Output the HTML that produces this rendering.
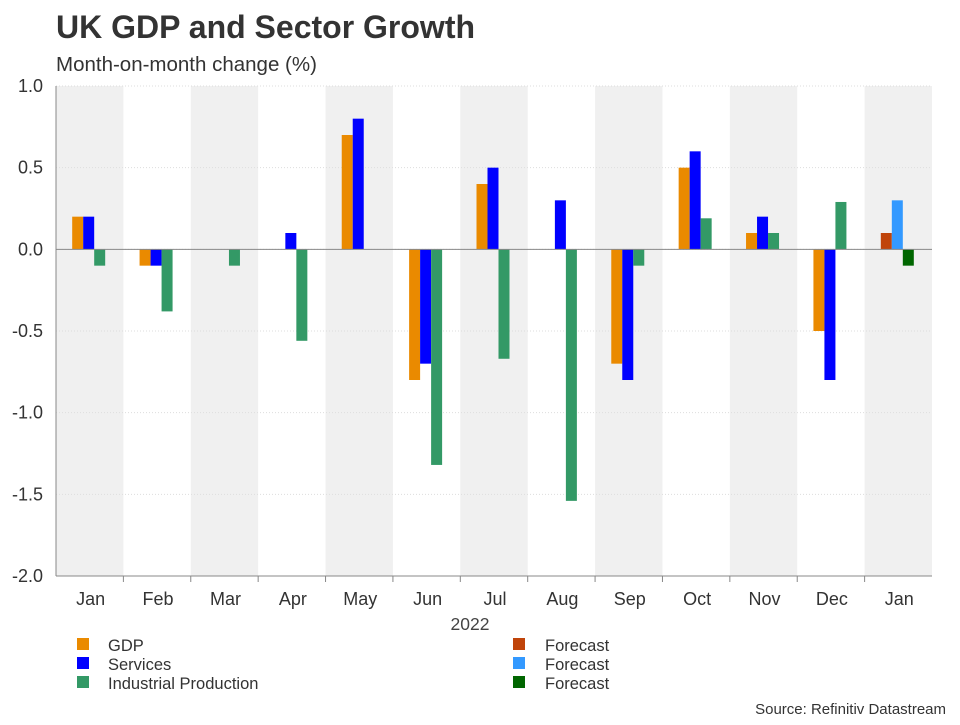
<!DOCTYPE html>
<html><head><meta charset="utf-8"><style>
body{margin:0;background:#fff;font-family:"Liberation Sans",Arial,sans-serif;}
svg text{font-family:"Liberation Sans",Arial,sans-serif;}
</style></head><body>
<svg width="960" height="720" xmlns="http://www.w3.org/2000/svg">
<text x="56" y="38" font-size="32" font-weight="bold" fill="#333">UK GDP and Sector Growth</text>
<text x="56" y="71" font-size="20.5" fill="#333">Month-on-month change (%)</text>
<g id="plot"></g>
<text x="470" y="630" font-size="17.5" fill="#444" text-anchor="middle">2022</text>
<g>
<rect x="77" y="638" width="12" height="12" fill="#ea8a00"/>
<text x="108" y="651" font-size="16.5" fill="#333">GDP</text>
<rect x="77" y="657" width="12" height="12" fill="#0000ff"/>
<text x="108" y="670" font-size="16.5" fill="#333">Services</text>
<rect x="77" y="676" width="12" height="12" fill="#339966"/>
<text x="108" y="689" font-size="16.5" fill="#333">Industrial Production</text>
<rect x="513" y="638" width="12" height="12" fill="#c0440a"/>
<text x="545" y="651" font-size="16.5" fill="#333">Forecast</text>
<rect x="513" y="657" width="12" height="12" fill="#3399ff"/>
<text x="545" y="670" font-size="16.5" fill="#333">Forecast</text>
<rect x="513" y="676" width="12" height="12" fill="#006600"/>
<text x="545" y="689" font-size="16.5" fill="#333">Forecast</text>
</g>
<text x="946" y="714" font-size="15" fill="#333" text-anchor="end">Source: Refinitiv Datastream</text>
</svg>
<script>
const categories=["Jan","Feb","Mar","Apr","May","Jun","Jul","Aug","Sep","Oct","Nov","Dec","Jan"];
const gdp=[0.2,-0.1,0,0,0.7,-0.8,0.4,0,-0.7,0.5,0.1,-0.5,0.1];
const services=[0.2,-0.1,0,0.1,0.8,-0.7,0.5,0.3,-0.8,0.6,0.2,-0.8,0.3];
const industrial=[-0.1,-0.38,-0.1,-0.56,0,-1.32,-0.67,-1.54,-0.1,0.19,0.1,0.29,-0.1];
const yTicks=[1.0,0.5,0.0,-0.5,-1.0,-1.5,-2.0];
const forecastIndex=12;
const NS="http://www.w3.org/2000/svg";
const g=document.getElementById('plot');
const L=56,R=932,T=86,B=576,yMax=1,yMin=-2;
const bw=(R-L)/categories.length;
const y=v=>T+(yMax-v)/(yMax-yMin)*(B-T);
const x=i=>L+i*bw;
function mk(tag,attrs){const e=document.createElementNS(NS,tag);for(const k in attrs)e.setAttribute(k,attrs[k]);g.appendChild(e);return e;}
categories.forEach((c,i)=>{if(i%2==0){const r=mk('rect',{x:x(i),y:T,width:bw,height:B-T,fill:'#f0f0f0'});

}});
yTicks.forEach(t=>{const l=mk('line',{x1:L,x2:R,y1:y(t),y2:y(t),stroke:'#ddd','stroke-dasharray':'1,2'});


const tx=mk('text',{x:L-13,y:y(t)+6,'font-size':18,fill:'#333','text-anchor':'end'});tx.textContent=t.toFixed(1);

});
const series=[[gdp,'#ea8a00','#c0440a',-11,'gdp'],[services,'#0000ff','#3399ff',0,'services'],[industrial,'#339966','#006600',11,'industrial']];
categories.forEach((c,i)=>{const cx=x(i)+bw/2-1;
series.forEach(([arr,col,fc,off,nm])=>{const v=arr[i];if(v===0)return;
const r=mk('rect',{x:cx+off-5.5,y:Math.min(y(v),y(0)),width:11,height:Math.abs(y(v)-y(0)),fill:i===forecastIndex?fc:col});

});
const tx=mk('text',{x:cx+2,y:605,'font-size':18,fill:'#333','text-anchor':'middle'});tx.textContent=c;


if(i>0){const tk=mk('line',{x1:x(i),x2:x(i),y1:B,y2:B+6,stroke:'#888'});

}});
const z=mk('line',{x1:L,x2:R,y1:y(0),y2:y(0),stroke:'#888'});


const xa=mk('line',{x1:L,x2:R,y1:B,y2:B,stroke:'#888'});


const ya=mk('line',{x1:L,x2:L,y1:T,y2:B,stroke:'#888'});


</script>
</body></html>
